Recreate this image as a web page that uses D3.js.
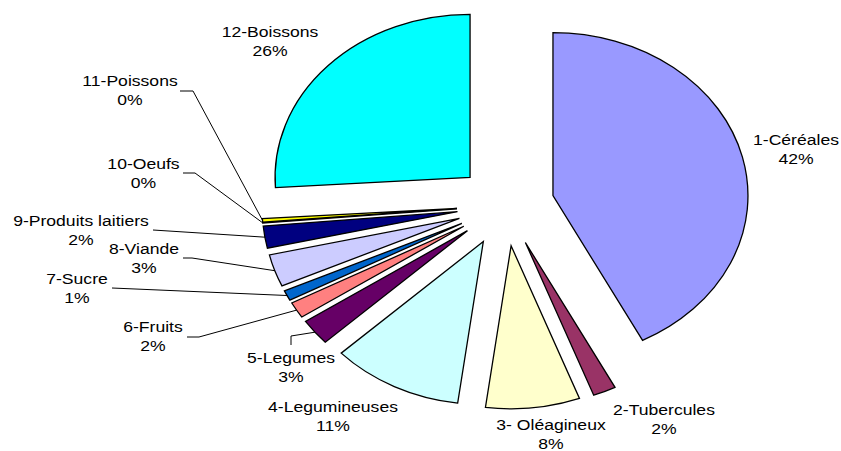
<!DOCTYPE html>
<html>
<head>
<meta charset="utf-8">
<script src="https://cdn.jsdelivr.net/npm/d3@7/dist/d3.min.js"></script>
<style>
  html, body { margin: 0; padding: 0; background: #fff; }
  svg { display: block; }
  text { font-family: Arial, "Liberation Sans", sans-serif; fill: #000; }
</style>
</head>
<body>
<svg id="chart" width="841" height="451"></svg>
<script>
// ---- data ----
const categories = ["1-Céréales", "2-Tubercules", "3- Oléagineux", "4-Legumineuses", "5-Legumes",
  "6-Fruits", "7-Sucre", "8-Viande", "9-Produits laitiers", "10-Oeufs", "11-Poissons", "12-Boissons"];
const shares = [42.4, 1.9, 7.8, 10.9, 2.6, 1.6, 1.0, 3.2, 2.2, 0.05, 0.35, 26.0];
const colors = ["#9999FF", "#993366", "#FFFFCC", "#CCFFFF", "#660066", "#FF8080",
  "#0066CC", "#CCCCFF", "#000080", "#FF00FF", "#FFFF00", "#00FFFF"];

// ---- layout (label placement) ----
const labelCenters = [
  [796, 140], [664, 410], [551, 425], [333, 407], [291, 358], [153, 327],
  [77, 279], [144, 249], [81, 221], [143.5, 164], [130, 81], [270, 32]
];
// leader line start points (label side), null = no leader
const leaderStarts = [
  null, null, null, null,
  [[291, 345], [291, 336]],
  [[187, 337], [199, 337]],
  [[112, 288]],
  [[183, 258], [192, 258]],
  [[153, 230]],
  [[183, 173], [195, 173]],
  [[180, 91], [193, 91]],
  null
];

const W = 841, H = 451;
const cx = 505.6, cy = 205.3;
const R = 163;              // vertical radius
const sx = 195 / 163;       // horizontal stretch
const explode = 0.25 * R;
const fontSize = 14.7, lineH = 18.5;

const svg = d3.select("#chart");
const total = d3.sum(shares);

const pie = d3.pie().sort(null).value(d => d).startAngle(0).endAngle(2 * Math.PI);
const arcs = pie(shares);
const arc = d3.arc().innerRadius(0).outerRadius(R);

const root = svg.append("g").attr("transform", `translate(${cx},${cy})`);

function offset(a) {
  const m = (a.startAngle + a.endAngle) / 2;
  return [explode * Math.sin(m) * sx, -explode * Math.cos(m)];
}

arcs.forEach((a, i) => {
  const [ox, oy] = offset(a);
  root.append("g")
    .attr("transform", `translate(${ox},${oy}) scale(${sx},1)`)
    .append("path")
    .attr("d", arc(a))
    .attr("fill", colors[i])
    .attr("stroke", "#000")
    .attr("stroke-width", 1.3)
    .attr("vector-effect", "non-scaling-stroke")
    .attr("stroke-linejoin", "miter");
});

// leader lines
const line = d3.line();
arcs.forEach((a, i) => {
  const st = leaderStarts[i];
  if (!st) return;
  const [ox, oy] = offset(a);
  const m = (a.startAngle + a.endAngle) / 2;
  const end = [cx + ox + R * Math.sin(m) * sx, cy + oy - R * Math.cos(m)];
  svg.append("path")
    .attr("d", line(st.concat([end])))
    .attr("fill", "none")
    .attr("stroke", "#000")
    .attr("stroke-width", 1);
});

// labels
arcs.forEach((a, i) => {
  const [lx, ly] = labelCenters[i];
  const pct = Math.round(shares[i] / total * 100) + "%";
  const t = svg.append("text")
    .attr("transform", `translate(${lx},${ly}) scale(${sx},1)`)
    .attr("text-anchor", "middle")
    .style("font-size", fontSize + "px");
  t.append("tspan").attr("x", 0).attr("y", 5.2).text(categories[i]);
  t.append("tspan").attr("x", 0).attr("y", 5.2 + lineH).text(pct);
});
</script>
</body>
</html>
